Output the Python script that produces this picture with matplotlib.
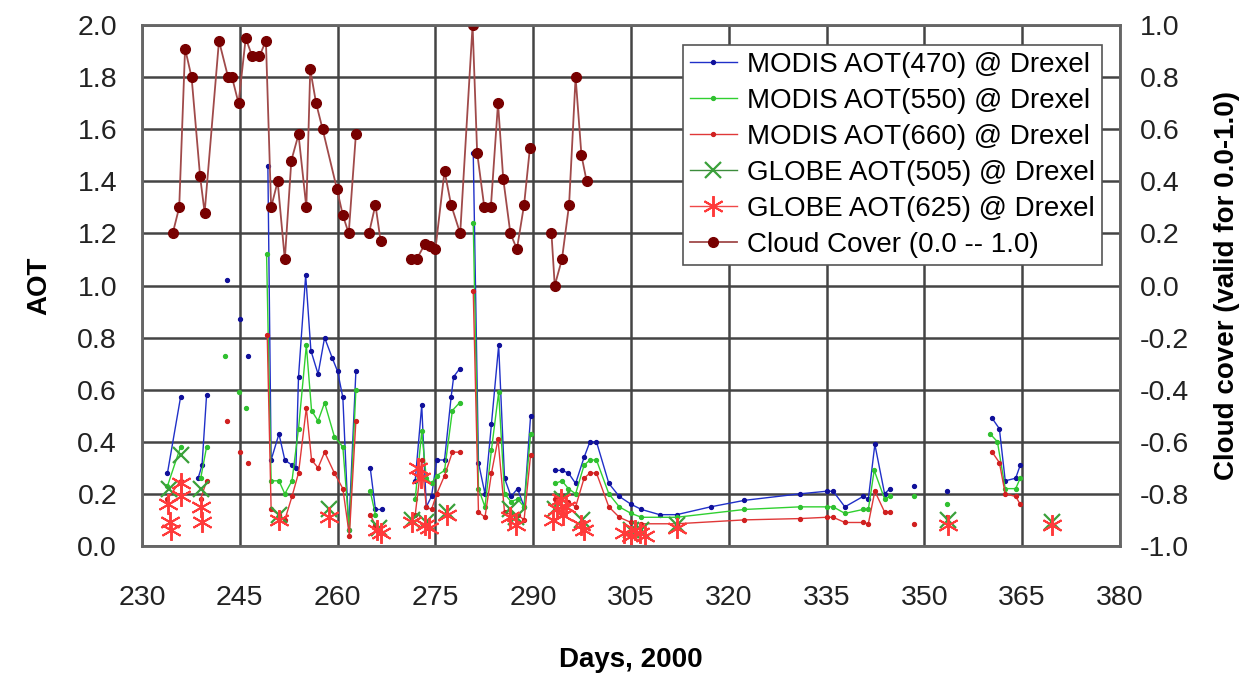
import matplotlib
matplotlib.use("Agg")
import matplotlib.pyplot as plt
import numpy as np

nan = np.nan

# MODIS AOT(470)
days_470 = [233.9, 235.9, nan, 238.6, 239.2, 239.9, nan, 243.0, nan, 245.0, nan, 246.2, nan,
            249.3, 249.8, 251.0, 251.9, 253.0, 253.6, 254.0, 255.1, 255.9, 257.0, 258.0, 259.2,
            260.0, 260.8, 261.7, 262.8, nan, 265.0, 265.8, 266.8, nan, 271.9, 272.9, 273.6,
            274.4, 275.2, 276.4, 277.4, 277.8, 278.7, nan, 280.8, 281.6, 282.6, 283.6, 284.7,
            285.6, 286.6, 287.6, 288.6, 289.6, nan, 293.4, 294.4, 295.4, 296.5, 297.8, 298.7,
            299.7, 301.6, 303.2, 305.0, 306.6, 309.4, 312.0, 317.2, 322.4, 330.9, 335.0, 336.0,
            337.8, 340.6, 341.4, 342.4, 343.9, 344.7, nan, 348.4, nan, 353.5, nan, 360.4, 361.5,
            362.4, 364.0, 364.7]
aot_470 = [0.28, 0.57, nan, 0.26, 0.31, 0.58, nan, 1.02, nan, 0.87, nan, 0.73, nan,
           1.46, 0.33, 0.43, 0.33, 0.31, 0.30, 0.65, 1.04, 0.75, 0.66, 0.80, 0.72,
           0.67, 0.57, 0.06, 0.67, nan, 0.30, 0.14, 0.14, nan, 0.25, 0.54, 0.15,
           0.19, 0.33, 0.33, 0.57, 0.65, 0.68, nan, 1.51, 0.32, 0.20, 0.47, 0.77,
           0.26, 0.19, 0.22, 0.15, 0.50, nan, 0.29, 0.29, 0.28, 0.24, 0.34, 0.40,
           0.40, 0.24, 0.19, 0.16, 0.14, 0.12, 0.12, 0.15, 0.175, 0.20, 0.21, 0.21,
           0.15, 0.19, 0.18, 0.39, 0.20, 0.22, nan, 0.23, nan, 0.21, nan, 0.49, 0.45,
           0.25, 0.26, 0.31]

# MODIS AOT(550)
days_550 = [233.9, 235.9, nan, 239.0, 239.9, nan, 242.8, nan, 244.9, nan, 246.0, nan,
            249.1, 249.8, 251.0, 251.9, 253.0, 254.0, 255.2, 256.0, 257.0, 258.0, 259.5,
            260.8, 261.8, 262.8, nan, 265.0, 265.8, nan, 271.9, 272.9, 273.6, 274.4, 275.2,
            276.4, 277.6, 278.7, nan, 280.8, 281.6, 282.6, 283.6, 284.7, 285.6, 286.6, 287.6,
            288.6, 289.6, nan, 293.4, 294.4, 295.4, 296.5, 297.8, 298.7, 299.7, 301.6, 303.2,
            305.0, 306.6, 312.0, 322.4, 330.9, 335.0, 336.0, 337.8, 340.6, 341.4, 342.3,
            343.9, 344.7, nan, 348.4, nan, 353.5, nan, 360.1, 361.2, 362.4, 364.0, 364.7]
aot_550 = [0.23, 0.38, nan, 0.26, 0.38, nan, 0.73, nan, 0.59, nan, 0.53, nan,
           1.12, 0.25, 0.25, 0.20, 0.25, 0.45, 0.77, 0.52, 0.48, 0.55, 0.42,
           0.38, 0.06, 0.60, nan, 0.21, 0.12, nan, 0.18, 0.44, 0.26, 0.24, 0.27,
           0.29, 0.52, 0.55, nan, 1.24, 0.22, 0.15, 0.37, 0.59, 0.20, 0.17, 0.18,
           0.15, 0.43, nan, 0.24, 0.25, 0.22, 0.20, 0.31, 0.33, 0.33, 0.20, 0.15,
           0.125, 0.11, 0.11, 0.14, 0.15, 0.15, 0.15, 0.125, 0.14, 0.14, 0.29,
           0.18, 0.19, nan, 0.19, nan, 0.16, nan, 0.43, 0.40, 0.22, 0.22, 0.26]

# MODIS AOT(660)
days_660 = [233.9, 235.9, nan, 239.0, 239.9, nan, 243.0, nan, 245.0, nan, 246.2, nan,
            249.2, 249.8, 251.0, 251.9, 253.0, 254.0, 255.2, 256.0, 257.0, 258.0, 259.5,
            260.8, 261.8, 262.8, nan, 265.0, 265.8, nan, 271.9, 272.9, 273.6, 274.4, 275.2,
            276.4, 277.6, 278.7, nan, 280.8, 281.6, 282.6, 283.6, 284.6, 285.6, 286.6, 287.6,
            288.6, 289.6, nan, 293.4, 294.4, 295.4, 296.5, 297.8, 298.7, 299.7, 301.6, 303.2,
            305.0, 306.6, 312.0, 322.4, 330.9, 335.0, 336.0, 337.8, 340.6, 341.4, 342.4,
            343.9, 344.7, nan, 348.4, nan, 353.5, nan, 360.4, 361.5, 362.4, 364.0, 364.7]
aot_660 = [0.18, 0.25, nan, 0.18, 0.25, nan, 0.48, nan, 0.36, nan, 0.32, nan,
           0.81, 0.14, 0.12, 0.10, 0.19, 0.28, 0.53, 0.33, 0.30, 0.36, 0.28,
           0.22, 0.04, 0.48, nan, 0.12, 0.08, nan, 0.12, 0.33, 0.15, 0.14, 0.20,
           0.27, 0.36, 0.36, nan, 0.98, 0.13, 0.11, 0.28, 0.41, 0.13, 0.12, 0.12,
           0.10, 0.35, nan, 0.18, 0.19, 0.17, 0.15, 0.26, 0.28, 0.28, 0.15, 0.11,
           0.09, 0.085, 0.085, 0.10, 0.105, 0.11, 0.11, 0.09, 0.09, 0.085, 0.21,
           0.13, 0.13, nan, 0.085, nan, 0.11, nan, 0.36, 0.32, 0.20, 0.19, 0.16]

# GLOBE AOT(505)
days_g505 = [234.2, nan, 235.9, nan, 239.1, nan, 251.0, nan, 258.7, nan, 266.3, nan, 271.4, nan,
             273.6, nan, 276.7, nan, 286.4, nan, 287.4, nan, 293.4, nan, 294.4, nan, 297.5, nan,
             305.0, nan, 306.6, nan, 312.0, nan, 353.6, nan, 369.6]
aot_g505 = [0.22, nan, 0.35, nan, 0.22, nan, 0.12, nan, 0.14, nan, 0.07, nan, 0.10, nan,
            0.09, nan, 0.13, nan, 0.14, nan, 0.11, nan, 0.14, nan, 0.18, nan, 0.10, nan,
            0.06, nan, 0.06, nan, 0.08, nan, 0.10, nan, 0.09]

# GLOBE AOT(625)
days_g625 = [234.0, nan, 234.3, nan, 234.5, nan, 235.9, nan, 236.0, nan, 239.0, nan, 239.2, nan,
             251.0, nan, 258.7, nan, 266.0, nan, 266.6, nan, 271.4, nan, 272.4, nan, 272.8, nan,
             273.4, nan, 274.0, nan, 276.8, nan, 286.4, nan, 287.4, nan, 293.0, nan, 293.6, nan,
             294.2, nan, 294.6, nan, 295.0, nan, 297.4, nan, 297.8, nan, 304.0, nan, 305.0, nan,
             305.6, nan, 306.4, nan, 307.2, nan, 312.0, nan, 353.6, nan, 369.6]
aot_g625 = [0.16, nan, 0.09, nan, 0.06, nan, 0.24, nan, 0.19, nan, 0.15, nan, 0.09, nan,
            0.10, nan, 0.11, nan, 0.06, nan, 0.05, nan, 0.09, nan, 0.30, nan, 0.26, nan,
            0.08, nan, 0.07, nan, 0.12, nan, 0.11, nan, 0.08, nan, 0.10, nan, 0.14, nan,
            0.18, nan, 0.12, nan, 0.15, nan, 0.08, nan, 0.06, nan, 0.05, nan, 0.04, nan,
            0.06, nan, 0.05, nan, 0.04, nan, 0.07, nan, 0.08, nan, 0.08]

# Cloud cover (right axis)
days_cloud = [234.7, 235.7, 236.6, 237.6, 238.9, 239.6, 241.8, 243.2, 243.8, 244.8, 245.9,
              246.9, 248.0, 249.0, 249.8, 250.8, 251.9, 252.9, 254.0, 255.2, 255.8, 256.7,
              257.7, 259.9, 260.8, 261.7, 262.8, nan, 264.8, 265.8, 266.6, nan, 271.3, 272.1,
              273.4, 274.2, 275.0, 276.4, 277.4, 278.8, 280.7, 281.4, 282.5, 283.5, 284.6,
              285.4, 286.5, 287.5, 288.6, 289.5, nan, 292.8, 293.3, 294.4, 295.5, 296.5,
              297.4, 298.2]
cloud = [0.20, 0.30, 0.91, 0.80, 0.42, 0.28, 0.94, 0.80, 0.80, 0.70, 0.95,
         0.88, 0.88, 0.94, 0.30, 0.40, 0.10, 0.48, 0.58, 0.30, 0.83, 0.70,
         0.60, 0.37, 0.27, 0.20, 0.58, nan, 0.20, 0.31, 0.17, nan, 0.10, 0.10,
         0.16, 0.15, 0.14, 0.44, 0.31, 0.20, 1.00, 0.51, 0.30, 0.30, 0.70,
         0.41, 0.20, 0.14, 0.31, 0.53, nan, 0.20, 0.00, 0.10, 0.31, 0.80,
         0.50, 0.40]

x_ticks = np.arange(230, 381, 15)
left_ticks = np.arange(0, 2.01, 0.2)
right_ticks = np.arange(-1.0, 1.01, 0.2)

plt.rcParams['font.family'] = ['Liberation Sans', 'DejaVu Sans']

fig = plt.figure(figsize=(12.57, 6.79), dpi=100)
ax = fig.add_axes([0.113, 0.196, 0.778, 0.767])
ax2 = ax.twinx()

h1, = ax.plot(days_470, aot_470, '-', color='#2030c8', lw=1.0, marker='o', ms=2.8,
              mfc='#10109a', mec='#10109a', label='MODIS AOT(470) @ Drexel')
h2, = ax.plot(days_550, aot_550, '-', color='#30d030', lw=1.0, marker='o', ms=2.8,
              mfc='#30c030', mec='#30c030', label='MODIS AOT(550) @ Drexel')
h3, = ax.plot(days_660, aot_660, '-', color='#e03838', lw=1.0, marker='o', ms=2.8,
              mfc='#d02020', mec='#d02020', label='MODIS AOT(660) @ Drexel')
h4, = ax.plot(days_g505, aot_g505, '-', color='#3c8c3c', lw=1.0, marker='x', ms=11,
              mew=1.6, mec='#3aa03a', label='GLOBE AOT(505) @ Drexel')
h5, = ax.plot(days_g625, aot_g625, '-', color='#f04848', lw=1.0, marker=(6, 2, 0), ms=15,
              mew=1.4, mec='#ff3a3a', label='GLOBE AOT(625) @ Drexel')
h6, = ax2.plot(days_cloud, cloud, '-', color='#a04a4a', lw=1.3, marker='o', ms=7,
               mfc='#780000', mec='#780000', label='Cloud Cover (0.0 -- 1.0)')

ax.set_xlim(230, 380)
ax.set_ylim(0, 2.0)
ax2.set_ylim(-1.0, 1.0)
ax.set_xticks(x_ticks)
ax.set_yticks(left_ticks)
ax2.set_yticks(right_ticks)
ax.set_yticklabels(['%.1f' % v for v in left_ticks])
ax2.set_yticklabels(['0.0' if abs(v) < 1e-9 else '%.1f' % v for v in right_ticks])

ax.grid(True, color='#444444', lw=1.8)
ax.set_axisbelow(True)
for a in (ax, ax2):
    for sp in a.spines.values():
        sp.set_color('#666666')
        sp.set_linewidth(1.8)

ax.tick_params(axis='x', length=0, pad=28, labelsize=20.5, colors='#222222')
ax.tick_params(axis='y', length=0, pad=18, labelsize=20.5, colors='#222222')
ax2.tick_params(axis='y', length=0, pad=14, labelsize=20.5, colors='#222222')

ax.set_xlabel('Days, 2000', fontsize=20, fontweight='bold', labelpad=26)
ax.set_ylabel('AOT', fontsize=20, fontweight='bold', labelpad=18)
ax2.set_ylabel('Cloud cover (valid for 0.0-1.0)', fontsize=20, fontweight='bold', labelpad=18)

leg = ax2.legend(handles=[h1, h2, h3, h4, h5, h6], loc='upper left',
                 bbox_to_anchor=(0.553, 0.962), fontsize=20, frameon=True,
                 fancybox=False, handlelength=1.7, handletextpad=0.35,
                 borderpad=0.25, labelspacing=0.36, borderaxespad=0)
leg.get_frame().set_edgecolor('#555555')
leg.get_frame().set_linewidth(1.2)
leg.get_frame().set_alpha(1)

fig.savefig('out.png', dpi=100)
